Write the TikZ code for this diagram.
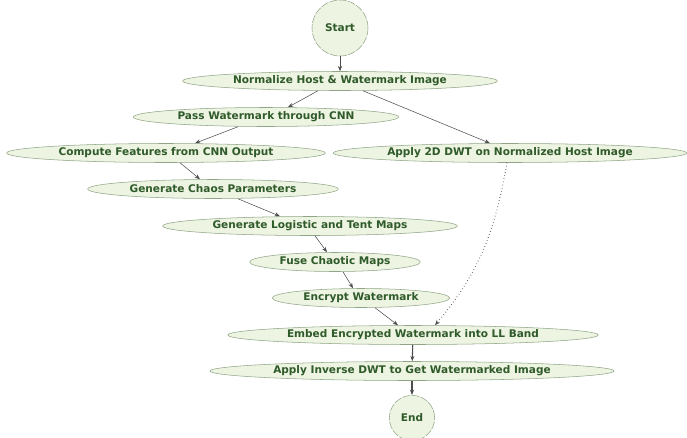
\documentclass[tikz,border=0pt]{standalone}
\usepackage{fontspec}
\setsansfont{DejaVu Sans}
\usetikzlibrary{shapes.geometric,arrows.meta,calc}
\definecolor{stepfill}{HTML}{EDF4E2}
\definecolor{stepline}{HTML}{8FA585}
\definecolor{steptext}{HTML}{2F5A2A}
\tikzset{
  stepbox/.style={ellipse, draw=stepline, fill=stepfill, inner sep=0pt,
    minimum height=14.25pt, text=steptext, font=\sffamily\bfseries\fontsize{7.9}{9}\selectfont},
  endbox/.style={circle, draw=stepline, fill=stepfill, inner sep=0pt,
    dash pattern=on 6pt off 1pt, text=steptext, font=\sffamily\bfseries\fontsize{7.9}{9}\selectfont},
  flow/.style={-{Stealth[length=4pt,width=3pt]}, draw=black!70, thin}
}
\begin{document}
\begin{tikzpicture}[x=0.75pt,y=-0.75pt]
  \useasboundingbox (0,0) rectangle (687,437);

  % Knoten
  \node[endbox, minimum size=42pt] (start) at (340,28) {Start};
  \node[stepbox, minimum width=236pt] (norm) at (340,81) {Normalize Host \& Watermark Image};
  \node[stepbox, minimum width=199pt] (pass) at (266,117) {Pass Watermark through CNN};
  \node[stepbox, minimum width=239pt] (feat) at (166,153) {Compute Features from CNN Output};
  \node[stepbox, minimum width=265pt] (dwt) at (510,153) {Apply 2D DWT on Normalized Host Image};
  \node[stepbox, minimum width=188pt] (chaos) at (213,189) {Generate Chaos Parameters};
  \node[stepbox, minimum width=221pt] (maps) at (310,226) {Generate Logistic and Tent Maps};
  \node[stepbox, minimum width=128pt] (fuse) at (335,262) {Fuse Chaotic Maps};
  \node[stepbox, minimum width=133pt] (enc) at (361,298) {Encrypt Watermark};
  \node[stepbox, minimum width=278pt] (embed) at (413,335) {Embed Encrypted Watermark into LL Band};
  \node[stepbox, minimum width=303pt] (idwt) at (412,371) {Apply Inverse DWT to Get Watermarked Image};
  \node[endbox, minimum size=34pt] (end) at (412,418) {End};

  % Pfeile
  \draw[flow] (start) -- (norm);
  \draw[flow] ($(norm.south)+(-22,0)$) -- ($(pass.north)+(22,0)$);
  \draw[flow] ($(norm.south)+(23,0)$) -- ($(dwt.north)+(-20,0)$);
  \draw[flow] ($(pass.south)+(-28,0)$) -- ($(feat.north)+(29,0)$);
  \draw[flow] ($(feat.south)+(14,0)$) -- ($(chaos.north)+(-13,0)$);
  \draw[flow] ($(chaos.south)+(25,0)$) -- ($(maps.north)+(-30,0)$);
  \draw[flow] ($(maps.south)+(5,0)$) -- ($(fuse.north)+(-8,0)$);
  \draw[flow] ($(fuse.south)+(8,0)$) -- ($(enc.north)+(-8,0)$);
  \draw[flow] ($(enc.south)+(14,0)$) -- ($(embed.north)+(-15,0)$);
  \draw[flow, dotted, thick] ($(dwt.south)+(-3,0)$) to[out=-100,in=50] ($(embed.north)+(22,0)$);
  \draw[flow, thick] (embed) -- (idwt);
  \draw[flow, thick] (idwt) -- (end);
\end{tikzpicture}
\end{document}
